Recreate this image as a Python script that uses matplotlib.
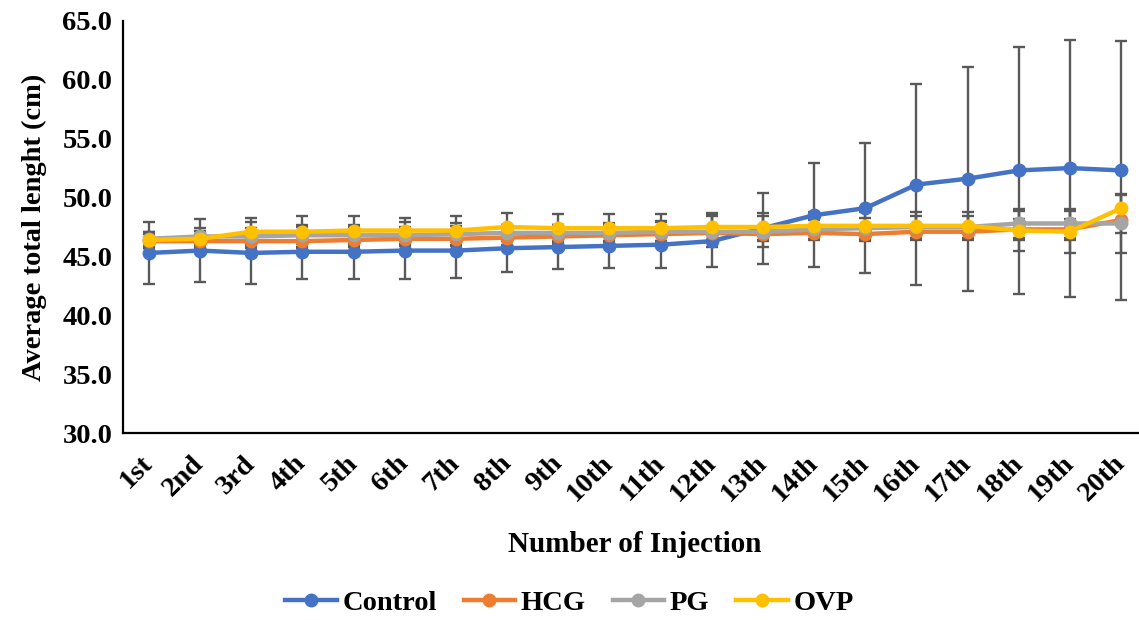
import numpy as np
import matplotlib.pyplot as plt
import matplotlib.transforms as mtransforms

plt.rcParams['font.family'] = ['Liberation Serif', 'DejaVu Serif']
plt.rcParams['font.weight'] = 'bold'

injections = ['1st', '2nd', '3rd', '4th', '5th', '6th', '7th', '8th', '9th', '10th',
              '11th', '12th', '13th', '14th', '15th', '16th', '17th', '18th', '19th', '20th']

control = [45.3, 45.5, 45.3, 45.4, 45.4, 45.5, 45.5, 45.7, 45.8, 45.9,
           46.0, 46.3, 47.4, 48.5, 49.1, 51.1, 51.6, 52.3, 52.5, 52.3]
control_sd = [2.6, 2.7, 2.6, 2.3, 2.3, 2.4, 2.3, 2.0, 1.9, 1.9,
              2.0, 2.2, 3.0, 4.4, 5.5, 8.5, 9.5, 10.5, 10.9, 11.0]

hcg = [46.3, 46.3, 46.3, 46.3, 46.4, 46.5, 46.5, 46.6, 46.7, 46.8,
       46.9, 47.0, 46.9, 47.0, 46.9, 47.1, 47.1, 47.3, 47.3, 48.1]
hcg_sd = [0.6, 0.6, 0.6, 0.6, 0.6, 0.6, 0.6, 0.6, 0.6, 0.6,
          0.6, 0.6, 0.5, 0.5, 0.6, 0.6, 0.6, 0.9, 0.9, 1.1]

pg = [46.5, 46.7, 46.7, 46.8, 46.8, 46.8, 46.9, 47.0, 47.0, 47.0,
      47.1, 47.1, 47.1, 47.3, 47.4, 47.5, 47.5, 47.8, 47.8, 47.8]
pg_sd = [0.6, 0.7, 0.7, 0.7, 0.7, 0.7, 0.7, 0.7, 0.7, 0.7,
         0.8, 1.3, 1.3, 0.8, 0.9, 0.9, 0.9, 1.2, 1.2, 2.5]

ovp = [46.4, 46.5, 47.1, 47.1, 47.2, 47.2, 47.2, 47.5, 47.4, 47.4,
       47.4, 47.5, 47.5, 47.6, 47.6, 47.6, 47.6, 47.2, 47.1, 49.1]
ovp_sd = [0.7, 0.7, 1.2, 1.3, 1.2, 1.1, 1.2, 1.2, 1.2, 1.2,
          1.2, 1.2, 1.2, 1.2, 1.2, 1.2, 1.2, 1.7, 1.8, 1.1]

groups = ['Control', 'HCG', 'PG', 'OVP']
means = [control, hcg, pg, ovp]
sds = [control_sd, hcg_sd, pg_sd, ovp_sd]
colors = ['#4472C4', '#ED7D31', '#A5A5A5', '#FFC000']

fig = plt.figure(figsize=(11.39, 6.20), dpi=100)
ax = fig.add_axes([0.1083, 0.3011, 0.8985, 0.6655])

x = np.arange(len(injections))
# error bars sit underneath all the lines
for m, s in zip(means, sds):
    ax.errorbar(x, m, yerr=s, fmt='none', ecolor='#595959', elinewidth=1.7,
                capsize=4.5, capthick=1.7, zorder=2)
for i, (name, m, c) in enumerate(zip(groups, means, colors)):
    ax.plot(x, m, color=c, lw=3.2, marker='o', ms=9, label=name, zorder=3 + i)

ax.set_xlim(-0.5, len(injections) - 0.5)
ax.set_ylim(30, 65)
yt = np.arange(30, 65.1, 5)
ax.set_yticks(yt)
ax.set_yticklabels([f'{v:.1f}' for v in yt], fontsize=20.5)
ax.set_xticks(x)
ax.set_xticklabels(injections, fontsize=20.5, rotation=45, ha='right', va='center',
                   rotation_mode='anchor')
shift = mtransforms.ScaledTranslation(-4 / 100, 0, fig.dpi_scale_trans)
for lbl in ax.get_xticklabels():
    lbl.set_transform(lbl.get_transform() + shift)
ax.tick_params(axis='both', length=0)
ax.tick_params(axis='y', pad=8)
ax.tick_params(axis='x', pad=19)

for side in ['top', 'right']:
    ax.spines[side].set_visible(False)
for side in ['left', 'bottom']:
    ax.spines[side].set_linewidth(1.6)
    ax.spines[side].set_color('black')

ax.set_ylabel('Average total lenght (cm)', fontsize=20.5, fontweight='bold', labelpad=11)
fig.text(0.557, 0.121, 'Number of Injection', fontsize=21, fontweight='bold',
         ha='center', va='center')

fig.legend(loc='center', bbox_to_anchor=(0.500, 0.027), ncol=4, frameon=False,
           prop={'size': 20.5, 'weight': 'bold'}, handlelength=1.8,
           handletextpad=0.2, columnspacing=0.95)

fig.savefig('out.png', dpi=100)
